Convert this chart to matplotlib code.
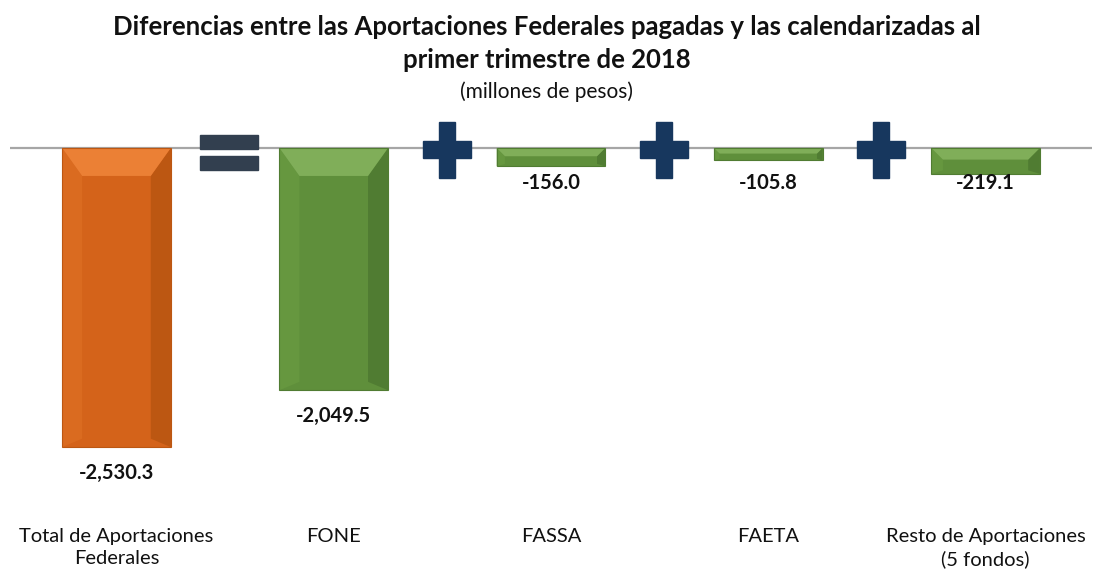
import matplotlib.pyplot as plt
from matplotlib.patches import Polygon, Rectangle

categories = ["Total de Aportaciones\nFederales", "FONE", "FASSA", "FAETA",
              "Resto de Aportaciones\n(5 fondos)"]
values = [-2530.3, -2049.5, -156.0, -105.8, -219.1]
symbols = ["=", "+", "+", "+"]

ORANGE = {"main": "#D4631A", "top": "#EB8035", "left": "#DA6B20", "right": "#BC5712"}
GREEN = {"main": "#5F8F3B", "top": "#80AE59", "left": "#66973F", "right": "#507C32"}

plt.rcParams["font.family"] = ["Lato", "DejaVu Sans"]

fig = plt.figure(figsize=(10.94, 5.71), dpi=100)
ax = fig.add_axes([10 / 1094, 1 - 500 / 571, 1082 / 1094, 390 / 571])
ax.set_xlim(-0.49, 4.49)
ax.set_ylim(-2978, 321)

# units per pixel, used for the bevel sizes
px_x = 4.98 / 1082
px_y = 3299 / 390


def bevel_bar(x, v, pal, w=0.25):
    x0, x1 = x - w, x + w
    h = -v
    b = min(28 * px_y, h * 0.45)
    bx = min(20 * px_x, b / px_y * px_x)
    ax.add_patch(Rectangle((x0, v), 2 * w, h, facecolor=pal["main"], edgecolor="none", zorder=2))
    ax.add_patch(Polygon([(x0, 0), (x0 + bx, -b), (x0 + bx, v + b * 0.3), (x0, v)],
                         facecolor=pal["left"], edgecolor="none", zorder=3))
    ax.add_patch(Polygon([(x1, 0), (x1 - bx, -b), (x1 - bx, v + b * 0.3), (x1, v)],
                         facecolor=pal["right"], edgecolor="none", zorder=3))
    ax.add_patch(Polygon([(x0, 0), (x1, 0), (x1 - bx, -b), (x0 + bx, -b)],
                         facecolor=pal["top"], edgecolor="none", zorder=3))
    ax.add_patch(Rectangle((x0, v), 2 * w, h, facecolor="none", edgecolor=pal["right"],
                           linewidth=0.8, zorder=4))


for i, v in enumerate(values):
    bevel_bar(i, v, ORANGE if i == 0 else GREEN)
    ly = v - 26 * px_y if v < -50 * px_y else -35 * px_y
    ax.text(i, ly, f"{v:,.1f}", ha="center", va="center", fontsize=14.5,
            fontweight="bold", color="#111111", zorder=5)

ax.axhline(0, color="#A6A6A6", linewidth=1.6, zorder=1)

# = and + signs between the bars
for i, s in enumerate(symbols):
    cx = i + 0.52
    if s == "=":
        hw = 29 * px_x
        ax.add_patch(Rectangle((cx - hw, -1 * px_y), 2 * hw, 14 * px_y, color="#323F4F", zorder=5))
        ax.add_patch(Rectangle((cx - hw, -22 * px_y), 2 * hw, 14 * px_y, color="#323F4F", zorder=5))
    else:
        cy = -2 * px_y
        hw, hh = 24 * px_x, 28 * px_y
        tw, th = 8 * px_x, 8.5 * px_y
        ax.add_patch(Rectangle((cx - hw, cy - th), 2 * hw, 2 * th, color="#17375E", zorder=5))
        ax.add_patch(Rectangle((cx - tw, cy - hh), 2 * tw, 2 * hh, color="#17375E", zorder=5))

ax.set_xticks(range(len(categories)))
ax.set_xticklabels(categories, fontsize=14.5, color="#111111", linespacing=1.4)
ax.tick_params(axis="x", length=0, pad=20)
ax.set_yticks([])
for sp in ax.spines.values():
    sp.set_visible(False)

fig.text(0.5, 1 - 27 / 571, "Diferencias entre las Aportaciones Federales pagadas y las calendarizadas al",
         ha="center", va="center", fontsize=18.5, fontweight="bold", color="#111111")
fig.text(0.5, 1 - 60 / 571, "primer trimestre de 2018",
         ha="center", va="center", fontsize=18.5, fontweight="bold", color="#111111")
fig.text(0.5, 1 - 92 / 571, "(millones de pesos)",
         ha="center", va="center", fontsize=15, color="#111111")

fig.savefig("out.png", dpi=100)
